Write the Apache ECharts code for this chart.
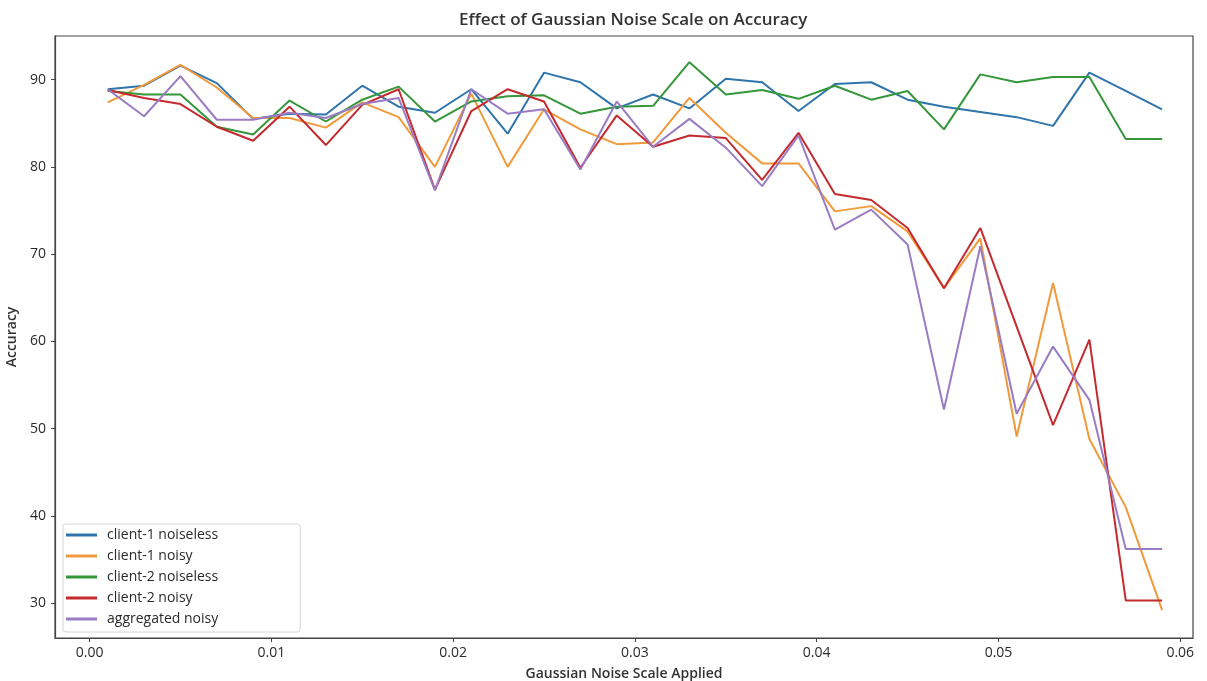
<!DOCTYPE html>
<html>
<head>
<meta charset="utf-8">
<script src="https://cdn.jsdelivr.net/npm/echarts@6/dist/echarts.min.js"></script>
<style>
  html, body { margin: 0; padding: 0; background: #fff; }
  #chart { width: 1207px; height: 681px; }
</style>
</head>
<body>
<div id="chart"></div>
<script>
// Noise scale values (x)
const noiseScale = [0.001, 0.003, 0.005, 0.007, 0.009, 0.011, 0.013, 0.015, 0.017, 0.019,
                    0.021, 0.023, 0.025, 0.027, 0.029, 0.031, 0.033, 0.035, 0.037, 0.039,
                    0.041, 0.043, 0.045, 0.047, 0.049, 0.051, 0.053, 0.055, 0.057, 0.059];

// Accuracy per series
const client1Noiseless = [88.9, 89.3, 91.6, 89.6, 85.5, 86.1, 86.0, 89.3, 86.9, 86.2,
                          88.9, 83.8, 90.8, 89.7, 86.7, 88.3, 86.7, 90.1, 89.7, 86.4,
                          89.5, 89.7, 87.7, 86.9, 86.3, 85.7, 84.7, 90.8, 88.7, 86.6];
const client1Noisy = [87.4, 89.4, 91.7, 89.1, 85.6, 85.6, 84.5, 87.4, 85.7, 80.0,
                      88.4, 80.0, 86.6, 84.3, 82.6, 82.8, 87.9, 83.9, 80.4, 80.4,
                      74.9, 75.5, 72.6, 66.1, 71.8, 49.1, 66.7, 48.8, 41.0, 29.2];
const client2Noiseless = [88.7, 88.3, 88.3, 84.6, 83.7, 87.6, 85.2, 87.7, 89.2, 85.2,
                          87.5, 88.1, 88.2, 86.1, 86.9, 87.0, 92.0, 88.3, 88.8, 87.8,
                          89.3, 87.7, 88.7, 84.3, 90.6, 89.7, 90.3, 90.3, 83.2, 83.2];
const client2Noisy = [88.8, 87.9, 87.2, 84.6, 83.0, 86.9, 82.5, 87.1, 88.9, 77.4,
                      86.4, 88.9, 87.5, 79.9, 85.9, 82.3, 83.6, 83.3, 78.5, 83.9,
                      76.9, 76.2, 73.0, 66.1, 73.0, 61.7, 50.4, 60.2, 30.3, 30.3];
const aggregatedNoisy = [88.9, 85.8, 90.4, 85.4, 85.4, 86.2, 85.6, 87.2, 87.9, 77.3,
                         88.9, 86.1, 86.6, 79.7, 87.5, 82.3, 85.5, 82.2, 77.8, 83.6,
                         72.8, 75.1, 71.1, 52.2, 70.9, 51.7, 59.4, 53.3, 36.2, 36.2];

const seriesNames = ['client-1 noiseless', 'client-1 noisy', 'client-2 noiseless', 'client-2 noisy', 'aggregated noisy'];
const seriesValues = [client1Noiseless, client1Noisy, client2Noiseless, client2Noisy, aggregatedNoisy];
const seriesColors = ['#2f74ab', '#f09a3c', '#35963a', '#c42a2e', '#9a7cc2'];

// Tick labels
const xTicks = [0, 0.01, 0.02, 0.03, 0.04, 0.05, 0.06];
const yTicks = [30, 40, 50, 60, 70, 80, 90];

const chart = echarts.init(document.getElementById('chart'));

const textColor = '#2a2a2a';
const fontFamily = '"Open Sans", "Noto Sans", sans-serif';

chart.setOption({
    animation: false,
    textStyle: { fontFamily: fontFamily },
    color: seriesColors,
    title: {
        text: 'Effect of Gaussian Noise Scale on Accuracy',
        left: 459,
        top: 12,
        padding: 0,
        textStyle: { fontSize: 17, fontWeight: 600, color: '#333', fontFamily: fontFamily }
    },
    grid: {
        left: 55,
        right: 14,
        top: 36,
        bottom: 43,
        containLabel: false,
        outerBoundsMode: 'none',
        show: true,
        borderColor: '#444',
        borderWidth: 1.2
    },
    legend: {
        orient: 'vertical',
        left: 63,
        top: 524,
        data: seriesNames,
        icon: 'rect',
        itemWidth: 31,
        itemHeight: 3,
        itemGap: 7,
        padding: [4, 82, 6, 3],
        backgroundColor: '#fff',
        borderColor: '#d6d6d6',
        borderWidth: 1,
        borderRadius: 3,
        textStyle: { fontSize: 14, color: textColor, lineHeight: 14, padding: [0, 0, 0, 5], fontFamily: fontFamily }
    },
    xAxis: {
        type: 'value',
        min: -0.0019,
        max: 0.0607,
        name: 'Gaussian Noise Scale Applied',
        nameLocation: 'middle',
        nameGap: 29,
        nameTextStyle: { fontSize: 14, fontWeight: 600, color: '#333' },
        axisLine: { show: true, onZero: false, lineStyle: { color: '#444', width: 1.2 } },
        axisTick: { show: true, length: 4, lineStyle: { color: '#444' }, customValues: xTicks },
        axisLabel: {
            fontSize: 14,
            color: textColor,
            margin: 8,
            customValues: xTicks,
            formatter: function (v) { return v.toFixed(2); }
        },
        splitLine: { show: false }
    },
    yAxis: {
        type: 'value',
        min: 26,
        max: 95,
        name: 'Accuracy',
        nameLocation: 'middle',
        nameGap: 30,
        nameTextStyle: { fontSize: 14, fontWeight: 600, color: '#333' },
        axisLine: { show: true, onZero: false, lineStyle: { color: '#444', width: 1.2 } },
        axisTick: { show: true, length: 4, lineStyle: { color: '#444' }, customValues: yTicks },
        axisLabel: { fontSize: 14, color: textColor, margin: 9, customValues: yTicks },
        splitLine: { show: false }
    },
    series: seriesNames.map(function (name, i) {
        return {
            name: name,
            type: 'line',
            symbol: 'none',
            lineStyle: { width: 2, color: seriesColors[i] },
            itemStyle: { color: seriesColors[i] },
            data: noiseScale.map(function (x, j) { return [x, seriesValues[i][j]]; })
        };
    })
});
</script>
</body>
</html>
